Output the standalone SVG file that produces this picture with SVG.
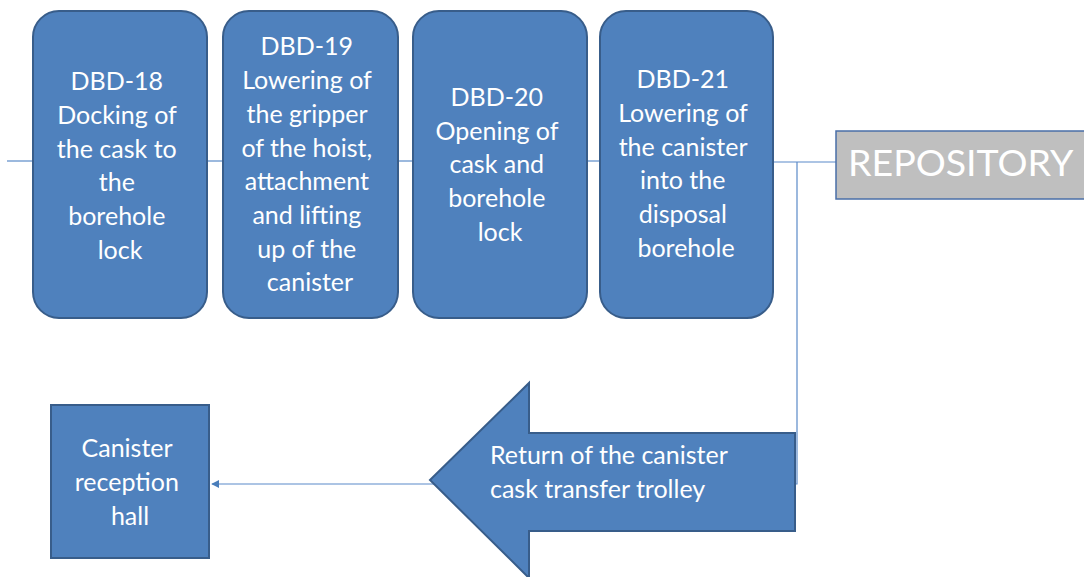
<svg xmlns="http://www.w3.org/2000/svg" width="1084" height="577" viewBox="0 0 1084 577">
  <style>
    .step { fill: #4f81bd; stroke: #385d8a; stroke-width: 2; }
    .repo { fill: #bfbfbf; stroke: #4a6fa8; stroke-width: 1.5; }
    .lbl { font-family: Lato, "Open Sans", sans-serif; font-size: 25px; fill: #ffffff; text-anchor: middle; }
    .lbl-left { text-anchor: start; }
    .repo-lbl { font-family: Lato, "Open Sans", sans-serif; font-size: 37.5px; fill: #ffffff; }
    .wire { fill: none; stroke: #5b8ac9; stroke-width: 1.2; }
  </style>
  <defs>
    <marker id="tip" viewBox="0 0 10 10" refX="9" refY="5" markerWidth="8" markerHeight="8" markerUnits="userSpaceOnUse" orient="auto">
      <path d="M0,0 L10,5 L0,10 z" fill="#4a7ebb"/>
    </marker>
  </defs>

  <rect width="1084" height="577" fill="#ffffff"/>

  <!-- connectors -->
  <g id="connectors">
    <line class="wire" x1="7" y1="161" x2="34" y2="161"/>
    <line class="wire" x1="207" y1="161" x2="224" y2="161"/>
    <line class="wire" x1="398" y1="161" x2="414" y2="161"/>
    <line class="wire" x1="587" y1="161" x2="601" y2="161"/>
    <line class="wire" x1="773" y1="162" x2="836" y2="162"/>
    <polyline class="wire" points="797,162 797,484 212,484" marker-end="url(#tip)"/>
  </g>

  <g id="dbd18">
    <rect class="step" x="33" y="11" width="174" height="307" rx="26"/>
    <text class="lbl">
      <tspan x="120" y="90">DBD-18</tspan>
      <tspan x="120" y="124">Docking of</tspan>
      <tspan x="120" y="158">the cask to</tspan>
      <tspan x="120" y="191">the</tspan>
      <tspan x="120" y="225">borehole</tspan>
      <tspan x="120" y="259">lock</tspan>
    </text>
  </g>

  <g id="dbd19">
    <rect class="step" x="223" y="11" width="175" height="307" rx="26"/>
    <text class="lbl">
      <tspan x="310" y="55">DBD-19</tspan>
      <tspan x="310" y="89">Lowering of</tspan>
      <tspan x="310" y="123">the gripper</tspan>
      <tspan x="310" y="157">of the hoist,</tspan>
      <tspan x="310" y="190">attachment</tspan>
      <tspan x="310" y="224">and lifting</tspan>
      <tspan x="310" y="258">up of the</tspan>
      <tspan x="310" y="291">canister</tspan>
    </text>
  </g>

  <g id="dbd20">
    <rect class="step" x="413" y="11" width="174" height="307" rx="26"/>
    <text class="lbl">
      <tspan x="500" y="106">DBD-20</tspan>
      <tspan x="500" y="140">Opening of</tspan>
      <tspan x="500" y="173">cask and</tspan>
      <tspan x="500" y="207">borehole</tspan>
      <tspan x="500" y="241">lock</tspan>
    </text>
  </g>

  <g id="dbd21">
    <rect class="step" x="600" y="11" width="173" height="307" rx="26"/>
    <text class="lbl">
      <tspan x="686" y="88">DBD-21</tspan>
      <tspan x="686" y="122">Lowering of</tspan>
      <tspan x="686" y="156">the canister</tspan>
      <tspan x="686" y="189">into the</tspan>
      <tspan x="686" y="223">disposal</tspan>
      <tspan x="686" y="257">borehole</tspan>
    </text>
  </g>

  <g id="repository">
    <rect class="repo" x="836" y="131" width="260" height="68"/>
    <text class="repo-lbl" x="848" y="176">REPOSITORY</text>
  </g>

  <g id="return-trolley">
    <polygon class="step" points="430,480 529,383 529,433 795,433 795,531 529,531 529,578"/>
    <text class="lbl lbl-left">
      <tspan x="490" y="464">Return of the canister</tspan>
      <tspan x="490" y="498">cask transfer trolley</tspan>
    </text>
  </g>

  <g id="reception-hall">
    <rect class="step" x="51" y="405" width="158" height="153"/>
    <text class="lbl">
      <tspan x="130" y="457">Canister</tspan>
      <tspan x="130" y="491">reception</tspan>
      <tspan x="130" y="525">hall</tspan>
    </text>
  </g>
</svg>
